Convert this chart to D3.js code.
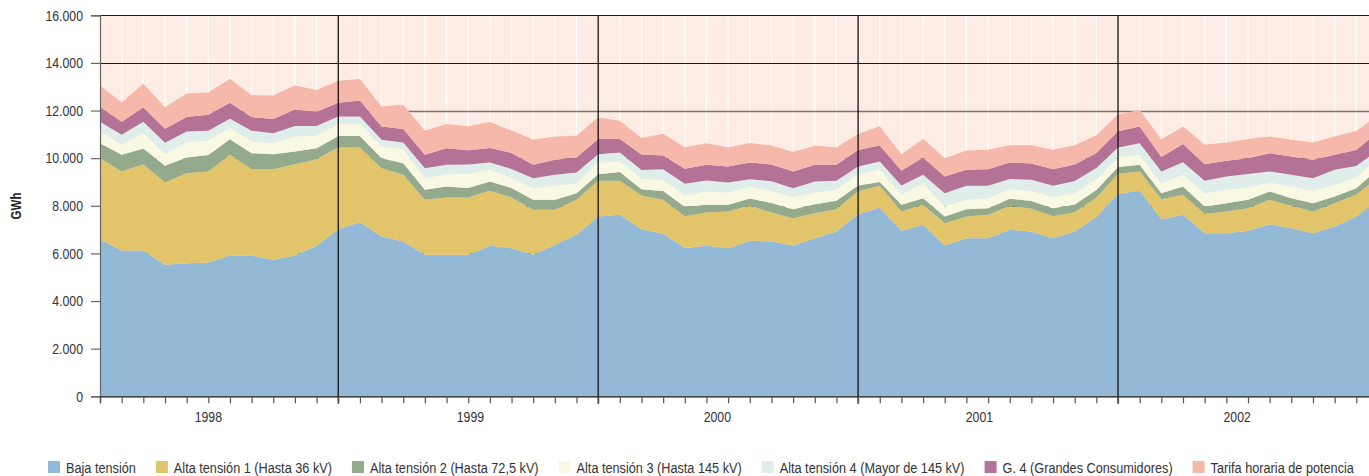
<!DOCTYPE html>
<html>
<head>
<meta charset="utf-8">
<script src="https://cdn.jsdelivr.net/npm/d3@7"></script>
<style>
  html, body { margin: 0; padding: 0; background: #ffffff; }
  svg { display: block; font-family: "Liberation Sans", Arial, sans-serif; }
</style>
</head>
<body>
<svg id="chart" width="1369" height="476"></svg>
<script>
// Monthly electricity sales by tariff group, 1998–2002 (GWh)
const years = ["1998", "1999", "2000", "2001", "2002"];
const categories = years.flatMap(yr => d3.range(1, 13).map(m => `${yr}-${String(m).padStart(2, "0")}`));

const seriesNames = [
  "Baja tensión",
  "Alta tensión 1 (Hasta 36 kV)",
  "Alta tensión 2 (Hasta 72,5 kV)",
  "Alta tensión 3 (Hasta 145 kV)",
  "Alta tensión 4 (Mayor de 145 kV)",
  "G. 4 (Grandes Consumidores)",
  "Tarifa horaria de potencia"
];

const bajaTension = [
  6600, 6120, 6120, 5520, 5590, 5620, 5910, 5910, 5730, 5910, 6320, 7020,
  7310, 6710, 6500, 5940, 5940, 5940, 6320, 6220, 5940, 6360, 6780, 7550,
  7620, 7020, 6830, 6230, 6320, 6220, 6530, 6500, 6330, 6640, 6920, 7650,
  7930, 6950, 7200, 6330, 6640, 6640, 6990, 6920, 6640, 6920, 7530, 8510,
  8630, 7440, 7620, 6850, 6850, 6950, 7230, 7060, 6850, 7130, 7550, 8250
];
const altaTension1 = [
  3400, 3320, 3630, 3460, 3780, 3820, 4230, 3630, 3810, 3840, 3640, 3430,
  3140, 2870, 2800, 2310, 2410, 2410, 2310, 2130, 1890, 1470, 1470, 1500,
  1430, 1410, 1420, 1330, 1400, 1540, 1470, 1220, 1150, 1050, 940, 960,
  910, 810, 840, 940, 910, 980, 1000, 960, 920, 810, 810, 840,
  810, 840, 840, 810, 910, 950, 1020, 940, 910, 980, 910, 950
];
const altaTension2 = [
  630, 700, 660, 700, 660, 690, 660, 670, 630, 530, 460, 480,
  480, 420, 490, 420, 460, 400, 390, 400, 420, 420, 280, 280,
  370, 260, 370, 400, 320, 280, 310, 400, 380, 380, 350, 240,
  160, 280, 280, 280, 310, 280, 310, 320, 340, 320, 320, 280,
  280, 250, 350, 310, 350, 350, 350, 320, 350, 280, 280, 340
];
const altaTension3 = [
  490, 420, 650, 500, 630, 610, 490, 490, 470, 630, 520, 500,
  500, 490, 590, 490, 520, 590, 490, 420, 490, 590, 420, 490,
  450, 450, 460, 470, 560, 520, 500, 490, 500, 490, 460, 480,
  520, 420, 630, 420, 390, 420, 390, 420, 470, 490, 440, 410,
  420, 420, 490, 560, 560, 530, 380, 490, 520, 490, 460, 460
];
const altaTension4 = [
  410, 420, 470, 470, 460, 410, 370, 450, 410, 440, 410, 320,
  320, 280, 280, 420, 390, 390, 310, 380, 420, 460, 450, 350,
  370, 360, 450, 500, 460, 420, 310, 420, 380, 460, 380, 320,
  340, 390, 350, 560, 590, 520, 440, 470, 470, 500, 490, 410,
  490, 490, 530, 520, 560, 560, 460, 490, 530, 630, 470, 340
];
const grandesConsumidores = [
  620, 550, 600, 590, 610, 670, 670, 580, 590, 690, 600, 580,
  670, 560, 560, 560, 700, 600, 610, 670, 560, 630, 630, 640,
  570, 650, 580, 630, 660, 670, 700, 700, 700, 700, 670, 690,
  670, 620, 730, 700, 670, 700, 690, 690, 700, 690, 630, 680,
  700, 610, 770, 700, 660, 660, 770, 770, 770, 630, 670, 750
];
const tarifaHoraria = [
  900, 810, 1000, 900, 990, 940, 1010, 910, 990, 1010, 910, 920,
  910, 840, 1020, 1010, 1010, 1010, 1090, 940, 1050, 980, 910, 910,
  760, 700, 920, 900, 910, 800, 820, 800, 820, 800, 730, 680,
  810, 700, 790, 770, 810, 810, 720, 760, 810, 810, 740, 700,
  700, 730, 730, 810, 770, 810, 700, 700, 730, 770, 800, 720
];

const yTicks = [0, 2000, 4000, 6000, 8000, 10000, 12000, 14000, 16000];

// ---- presentation ----
const colors = ["#94b9d6", "#e2c56a", "#93aa8c", "#f9f8e2", "#dfeeea", "#b47296", "#f5b8aa"];
const layout = {
  left: 100, top: 15.3, bottom: 396.3, step: 21.66,
  yearLabelAt: [5.0, 17.1, 28.5, 40.6, 52.5]
};
const W = 1369;
const NARROW = 0.82;   // horizontal squeeze for a condensed-looking face

const seriesValues = [bajaTension, altaTension1, altaTension2, altaTension3, altaTension4, grandesConsumidores, tarifaHoraria];
const rows = categories.map((c, i) => {
  const r = { idx: i, cat: c };
  seriesNames.forEach((n, k) => { r[n] = seriesValues[k][i]; });
  return r;
});

const x = d3.scaleLinear()
  .domain([0, categories.length - 1])
  .range([layout.left, layout.left + (categories.length - 1) * layout.step]);
const y = d3.scaleLinear().domain([0, 16000]).range([layout.bottom, layout.top]);

const svg = d3.select("#chart");
const fmt = d3.formatLocale({ decimal: ",", thousands: ".", grouping: [3], currency: ["", ""] }).format(",");

// draw a condensed text at (tx, ty)
function narrowText(parent, tx, ty, str) {
  return parent.append("text")
    .attr("transform", `translate(${tx},${ty}) scale(${NARROW},1)`)
    .text(str);
}

// plot background
svg.append("rect")
  .attr("x", layout.left).attr("y", layout.top)
  .attr("width", W - layout.left).attr("height", layout.bottom - layout.top)
  .attr("fill", "#fdece3");

// faint monthly separators in the background
svg.append("g").selectAll("line").data(rows.slice(1)).join("line")
  .attr("x1", d => x(d.idx)).attr("x2", d => x(d.idx))
  .attr("y1", layout.top).attr("y2", layout.bottom)
  .attr("stroke", "#ffffff").attr("stroke-width", 1.2);

// horizontal grid
svg.append("g").selectAll("line").data(yTicks.filter(v => v > 0)).join("line")
  .attr("x1", layout.left).attr("x2", W)
  .attr("y1", d => Math.round(y(d)) + 0.5).attr("y2", d => Math.round(y(d)) + 0.5)
  .attr("stroke", d => d === 12000 ? "#7b7370" : "#1a1a1a")
  .attr("stroke-width", d => d === 12000 ? 1.6 : 1);

// stacked areas
const stacked = d3.stack().keys(seriesNames)(rows);
const area = d3.area()
  .x(d => x(d.data.idx))
  .y0(d => y(d[0]))
  .y1(d => y(d[1]));
svg.append("g").selectAll("path").data(stacked).join("path")
  .attr("d", area)
  .attr("fill", (d, i) => colors[i]);

// year separators (last month of each year)
const yearEnds = years.slice(0, -1).map(yr => categories.indexOf(`${yr}-12`));
svg.append("g").selectAll("line").data(yearEnds).join("line")
  .attr("x1", d => x(d)).attr("x2", d => x(d))
  .attr("y1", layout.top).attr("y2", layout.bottom + 7.5)
  .attr("stroke", "#111").attr("stroke-width", 1.3);

// y axis
const yAxis = svg.append("g")
  .attr("transform", `translate(${layout.left},0)`)
  .call(d3.axisLeft(y).tickValues(yTicks).tickFormat(fmt).tickSize(9).tickPadding(8));
yAxis.select(".domain").attr("stroke", "#666").attr("stroke-width", 1.2);
yAxis.selectAll(".tick line").attr("stroke", "#666").attr("stroke-width", 1.2);
yAxis.selectAll(".tick text")
  .attr("font-size", 15).attr("fill", "#333")
  .attr("font-family", "'Liberation Sans', Arial, sans-serif")
  .attr("x", -17 / NARROW)
  .attr("transform", `scale(${NARROW},1)`);

// x axis
const xAxis = svg.append("g")
  .attr("transform", `translate(0,${layout.bottom})`)
  .call(d3.axisBottom(x).tickValues(rows.map(r => r.idx)).tickFormat("").tickSize(7));
xAxis.select(".domain").attr("stroke", "#111").attr("stroke-width", 1.3);
xAxis.selectAll(".tick line").attr("stroke", "#555").attr("stroke-width", 1.2);

const yearG = svg.append("g").attr("font-size", 15).attr("fill", "#333").attr("text-anchor", "middle");
years.forEach((yr, i) => narrowText(yearG, x(layout.yearLabelAt[i]), 422, yr));

// y axis title
svg.append("text")
  .attr("transform", `translate(21,206) rotate(-90) scale(${NARROW},1)`)
  .attr("text-anchor", "middle")
  .attr("font-size", 14).attr("font-weight", "bold").attr("fill", "#222")
  .text("GWh");

// legend
const legend = svg.append("g").attr("font-size", 15.5).attr("fill", "#333");
let lx = 48;
seriesNames.forEach((name, i) => {
  legend.append("rect")
    .attr("x", lx).attr("y", 461).attr("width", 12).attr("height", 12)
    .attr("fill", colors[i]);
  const t = narrowText(legend, lx + 18, 472.5, name);
  lx += 18 + t.node().getComputedTextLength() * NARROW + 20;
});
</script>
</body>
</html>
